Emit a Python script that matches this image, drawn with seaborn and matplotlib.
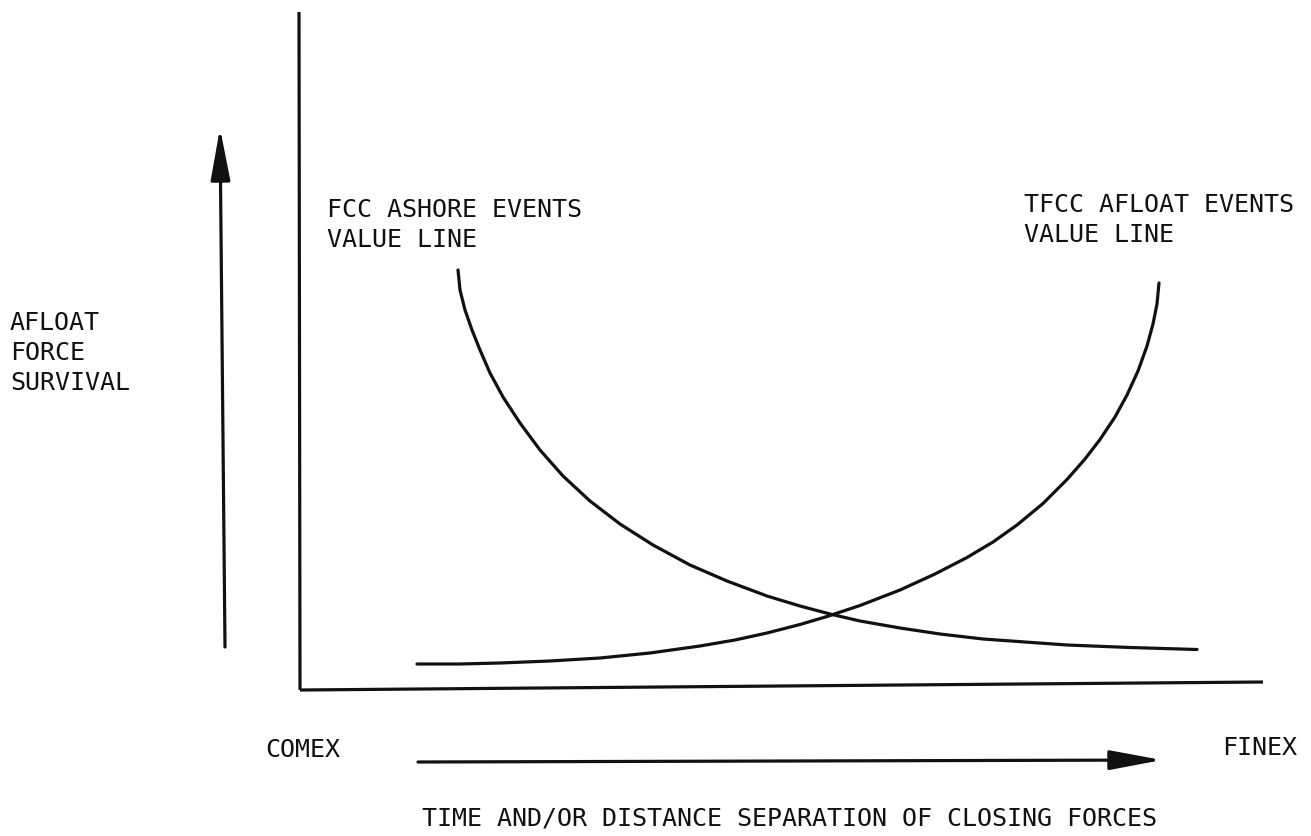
import numpy as np
import pandas as pd
import matplotlib
matplotlib.use("Agg")
import matplotlib.pyplot as plt
import seaborn as sns

# Points (page pixels, y grows downward)
fcc_x = [458, 460, 465, 472, 480, 490, 503, 520, 540, 563, 590, 620, 653, 690, 727, 767,
         800, 830, 860, 900, 940, 983, 1025, 1067, 1130, 1197]
fcc_y = [270, 290, 310, 330, 350, 373, 397, 423, 450, 476, 501, 524, 545, 565, 581, 596,
         606, 614, 621, 628, 634, 639, 642, 645, 647.5, 649.5]

tfcc_x = [417, 460, 500, 550, 600, 650, 700, 735, 767, 800, 827, 860, 900, 935, 967, 993,
          1017, 1043, 1067, 1085, 1100, 1115, 1127, 1138, 1147, 1153, 1157, 1159]
tfcc_y = [664, 664, 663, 661, 658, 653, 646, 640, 633, 624.5, 616.5, 605.5, 590, 574, 557.5, 542,
          525, 503.5, 479.5, 459, 439.5, 417, 395, 371, 346, 324, 304, 283]

# frame lines of the diagram
yaxis_x = [300, 299]
yaxis_y = [690, 12]
xaxis_x = [300, 1263]
xaxis_y = [690, 682]

# arrows: (tail, tip)
survival_arrow = [(225, 647), (220, 128)]
time_arrow = [(418, 762), (1162, 760)]

sns.set_theme(style="white")
plt.rcParams['font.family'] = ['DejaVu Sans Mono']

fig = plt.figure(figsize=(13.11, 8.36), dpi=100)
ax = fig.add_axes([0, 0, 1, 1])

curves = pd.concat([
    pd.DataFrame({"x": fcc_x, "y": fcc_y, "line": "FCC ASHORE"}),
    pd.DataFrame({"x": tfcc_x, "y": tfcc_y, "line": "TFCC AFLOAT"}),
])
sns.lineplot(data=curves, x="x", y="y", units="line", estimator=None, sort=False,
             color="#111111", linewidth=2.3, ax=ax, legend=False)

ax.plot(yaxis_x, yaxis_y, color="#111111", linewidth=2.3, solid_capstyle="butt")
ax.plot(xaxis_x, xaxis_y, color="#111111", linewidth=2.3, solid_capstyle="butt")

for tail, tip in [survival_arrow, time_arrow]:
    ax.annotate("", xy=tip, xytext=tail,
                arrowprops=dict(arrowstyle="-|>,head_length=3.2,head_width=0.6",
                                mutation_scale=10, color="#111111", lw=2.3,
                                shrinkA=0, shrinkB=0))

txt = dict(fontsize=18, color="#111111", linespacing=1.3)
ax.text(327, 198, "FCC ASHORE EVENTS\nVALUE LINE", ha="left", va="top", **txt)
ax.text(1024, 193, "TFCC AFLOAT EVENTS\nVALUE LINE", ha="left", va="top", **txt)
ax.text(10, 353, "AFLOAT\nFORCE\nSURVIVAL", ha="left", va="center", **txt)
ax.text(265, 750, "COMEX", ha="left", va="center", **txt)
ax.text(1222, 748, "FINEX", ha="left", va="center", **txt)
ax.text(422, 818, "TIME AND/OR DISTANCE SEPARATION OF CLOSING FORCES", ha="left", va="center", **txt)

ax.set_xlim(0, 1311)
ax.set_ylim(836, 0)
ax.axis("off")

fig.savefig("out.png", dpi=100, facecolor="white")
